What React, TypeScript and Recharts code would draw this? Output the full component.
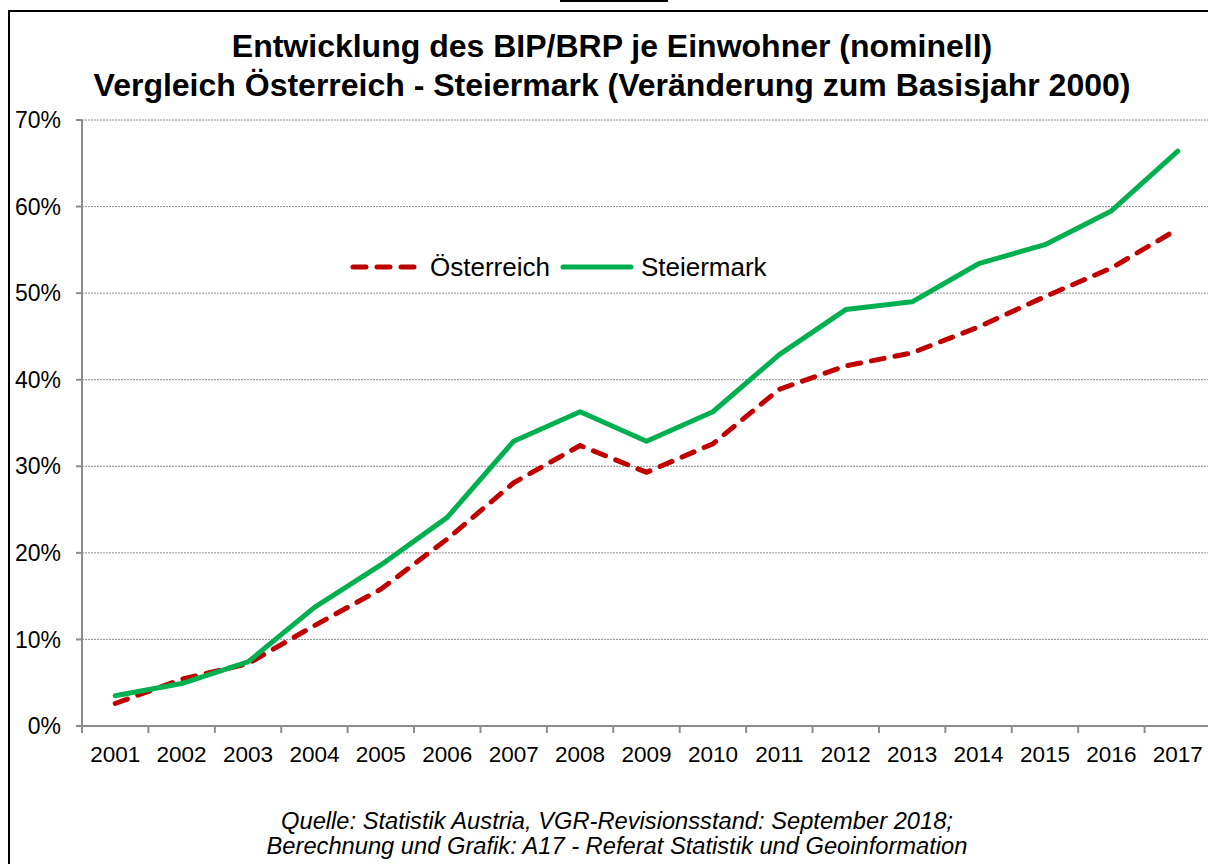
import React from 'react';
import { LineChart, Line, XAxis, YAxis, CartesianGrid } from 'recharts';

const years = ['2001','2002','2003','2004','2005','2006','2007','2008','2009','2010','2011','2012','2013','2014','2015','2016','2017'];
const oesterreich = [2.6, 5.4, 7.2, 11.6, 15.8, 21.6, 28.1, 32.4, 29.3, 32.6, 38.9, 41.6, 43.1, 46.1, 49.6, 52.9, 57.4];
const steiermark = [3.5, 4.9, 7.4, 13.7, 18.6, 24.1, 32.9, 36.3, 32.9, 36.3, 42.9, 48.1, 49.0, 53.4, 55.6, 59.5, 66.4];
const yTicks = [0, 10, 20, 30, 40, 50, 60, 70];

const data = years.map((y, i) => ({ x: i + 1, year: y, oe: oesterreich[i], st: steiermark[i] }));

const FONT = '"Liberation Sans", Arial, sans-serif';
const CHART_W = 1222;
const M_LEFT = 82;
const M_RIGHT = 11;
const X_H = 138;
const PLOT_W = CHART_W - M_LEFT - M_RIGHT;
const STEP = PLOT_W / years.length;

const XTick = (props: any) => {
  const { x, y, payload } = props;
  const label = years[payload.value - 1];
  const bx = x - STEP / 2;
  return (
    <g>
      <line x1={bx} y1={y - 8} x2={bx} y2={y - 1} stroke="#8c8c8c" strokeWidth={2} />
      <text x={x} y={y + 28} textAnchor="middle" fontSize={22.5} fontFamily={FONT} fill="#000">{label}</text>
    </g>
  );
};

export default function App() {
  return (
    <div style={{ position: 'absolute', left: 0, top: 0, width: 1208, height: 864, overflow: 'hidden', background: '#fff' }}>
      <div style={{ position: 'absolute', left: 560, top: 0, width: 108, height: 2, background: '#000' }} />
      <div style={{ position: 'absolute', left: 8, top: 10, width: 1220, height: 900, borderLeft: '2px solid #000', borderTop: '2px solid #000' }} />
      <div style={{ position: 'absolute', left: 0, top: 27, width: 1224, textAlign: 'center', fontFamily: FONT, fontWeight: 'bold', fontSize: 32, lineHeight: '39px', color: '#000' }}>
        <div>Entwicklung des BIP/BRP je Einwohner (nominell)</div>
        <div>Vergleich Österreich - Steiermark (Veränderung zum Basisjahr 2000)</div>
      </div>
      <div style={{ position: 'absolute', left: 0, top: 0 }}>
        <LineChart width={CHART_W} height={864} data={data} margin={{ top: 120, right: M_RIGHT, bottom: 0, left: 0 }}>
          <CartesianGrid vertical={false} stroke="#8c8c8c" strokeDasharray="2 1" strokeWidth={1} />
          <XAxis
            dataKey="x"
            type="number"
            domain={[0.5, 17.5]}
            ticks={data.map(d => d.x)}
            interval={0}
            tick={<XTick />}
            tickLine={false}
            axisLine={{ stroke: '#8c8c8c', strokeWidth: 2 }}
            height={X_H}
          />
          <YAxis
            domain={[0, 70]}
            ticks={yTicks}
            interval={0}
            width={M_LEFT}
            tickFormatter={(v: number) => `${v}%`}
            tick={{ fontSize: 23, fontFamily: FONT, fill: '#000' }}
            tickSize={6}
            tickMargin={15}
            tickLine={{ stroke: '#8c8c8c', strokeWidth: 2 }}
            axisLine={{ stroke: '#8c8c8c', strokeWidth: 2 }}
          />
          <Line dataKey="oe" name="Österreich" stroke="#C00000" strokeWidth={5} strokeDasharray="13 11" strokeLinecap="round" dot={false} isAnimationActive={false} />
          <Line dataKey="st" name="Steiermark" stroke="#00B050" strokeWidth={5} strokeLinecap="round" strokeLinejoin="round" dot={false} isAnimationActive={false} />
        </LineChart>
      </div>
      <div style={{ position: 'absolute', left: 348, top: 251, height: 32, display: 'flex', alignItems: 'center', fontFamily: FONT, fontSize: 26, color: '#000', whiteSpace: 'nowrap' }}>
        <svg width={70} height={12} style={{ marginRight: 12 }}>
          <line x1={5} y1={6} x2={66} y2={6} stroke="#C00000" strokeWidth={5} strokeDasharray="13 11" strokeLinecap="round" />
        </svg>
        <span>Österreich</span>
        <svg width={76} height={12} style={{ marginLeft: 9, marginRight: 6 }}>
          <line x1={4} y1={6} x2={72} y2={6} stroke="#00B050" strokeWidth={5} strokeLinecap="round" />
        </svg>
        <span>Steiermark</span>
      </div>
      <div style={{ position: 'absolute', left: 0, top: 809, width: 1234, textAlign: 'center', fontFamily: FONT, fontStyle: 'italic', fontSize: 23.7, lineHeight: '25px', color: '#000' }}>
        <div>Quelle: Statistik Austria, VGR-Revisionsstand: September 2018;</div>
        <div>Berechnung und Grafik: A17 - Referat Statistik und Geoinformation</div>
      </div>
    </div>
  );
}
